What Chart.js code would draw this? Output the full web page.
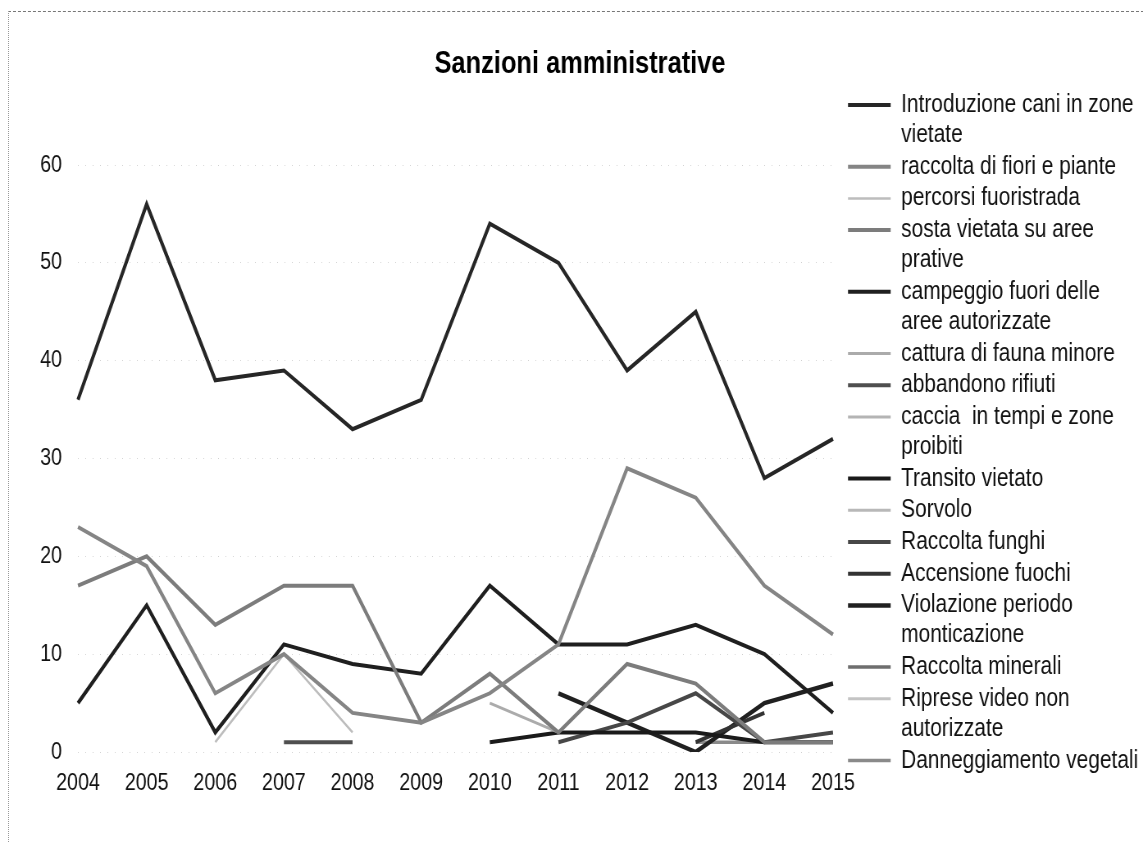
<!DOCTYPE html>
<html>
<head>
<meta charset="utf-8">
<script src="https://cdn.jsdelivr.net/npm/chart.js@4.4.1/dist/chart.umd.min.js"></script>
<style>
  body { margin: 0; background: #fff; }
  #wrap { position: absolute; left: 8px; top: 11px; width: 1135px; height: 832px;
          border-top: 1px dashed #777; border-left: 1px dotted #999; }
  /* the original uses a narrow face: draw wide, show narrow */
  #chart { width: 1134px !important; height: 831px !important; }
</style>
</head>
<body>
<div id="wrap"><canvas id="chart" width="1383" height="831" style="width:1134px;height:831px"></canvas></div>
<script>
var years = ['2004', '2005', '2006', '2007', '2008', '2009', '2010', '2011', '2012', '2013', '2014', '2015'];
var yTicks = [0, 10, 20, 30, 40, 50, 60];

var names = [
    'Introduzione cani in zone vietate',
    'raccolta di fiori e piante',
    'percorsi fuoristrada',
    'sosta vietata su aree prative',
    'campeggio fuori delle aree autorizzate',
    'cattura di fauna minore',
    'abbandono rifiuti',
    'caccia  in tempi e zone proibiti',
    'Transito vietato',
    'Sorvolo',
    'Raccolta funghi',
    'Accensione fuochi',
    'Violazione periodo monticazione',
    'Raccolta minerali',
    'Riprese video non autorizzate',
    'Danneggiamento vegetali'
];

// values, one list per series (null = no point)
var cani        = [36, 56, 38, 39, 33, 36, 54, 50, 39, 45, 28, 32];
var fiori       = [23, 19, 6, 10, 4, 3, 6, 11, 29, 26, 17, 12];
var fuoristrada = [null, null, 1, 10, 2, null, null, null, null, null, null, null];
var sosta       = [17, 20, 13, 17, 17, 3, 8, 2, 9, 7, 1, 1];
var campeggio   = [5, 15, 2, 11, 9, 8, 17, 11, 11, 13, 10, 4];
var fauna       = [null, null, null, null, null, null, 5, 2, null, null, null, null];
var rifiuti     = [null, null, null, 1, 1, null, null, null, null, null, null, null];
var caccia      = [null, null, null, null, null, null, null, null, null, null, null, null];
var transito    = [null, null, null, null, null, null, 1, 2, 2, 2, 1, 1];
var sorvolo     = [null, null, null, null, null, null, null, null, null, null, null, null];
var funghi      = [null, null, null, null, null, null, null, 1, 3, 6, 1, 2];
var fuochi      = [null, null, null, null, null, null, null, null, null, 1, 4, null];
var monticaz    = [null, null, null, null, null, null, null, 6, 3, 0, 5, 7];
var minerali    = [null, null, null, null, null, null, null, null, null, null, null, null];
var riprese     = [null, null, null, null, null, null, null, null, null, null, null, null];
var vegetali    = [null, null, null, null, null, null, null, null, null, 1, 1, 1];

var seriesData = [cani, fiori, fuoristrada, sosta, campeggio, fauna, rifiuti, caccia,
                  transito, sorvolo, funghi, fuochi, monticaz, minerali, riprese, vegetali];
var colors = ['#262626', '#858585', '#bdbdbd', '#7c7c7c', '#1f1f1f', '#ababab', '#4f4f4f', '#b4b4b4',
              '#1a1a1a', '#b8b8b8', '#474747', '#333333', '#202020', '#6e6e6e', '#c4c4c4', '#8a8a8a'];
var widths = [4, 4, 2.5, 4, 4, 3, 4, 3, 4, 3, 4, 4, 4.5, 3.5, 3, 3.5];

var FONT = '"Liberation Sans", Arial, sans-serif';
var W = 1383;            // internal canvas width, shown at 1134px
var K = 1134 / W;        // horizontal squeeze
var LEG_SIZE = 25.5;

// wrap long legend names the way the original legend does
var mctx = document.createElement('canvas').getContext('2d');
mctx.font = LEG_SIZE + 'px ' + FONT;
var maxLine = mctx.measureText('Introduzione cani in zone').width * 1.035;
function wrapLabel(text) {
    var words = text.split(' '), lines = [], line = '';
    words.forEach(function (w) {
        var test = line === '' ? w : line + ' ' + w;
        if (line !== '' && mctx.measureText(test).width > maxLine) {
            lines.push(line);
            line = w;
        } else {
            line = test;
        }
    });
    lines.push(line);
    return lines;
}
var widest = 0;
names.forEach(function (n) {
    wrapLabel(n).forEach(function (l) { widest = Math.max(widest, mctx.measureText(l).width); });
});

var areaRight = 824 / K;
var swatchW = 52;
// legend box width as Chart.js sizes it (it adds 10px to the column)
var legendW = 1.7 + swatchW + LEG_SIZE / 2 + widest + 10;
var padRight = Math.max(0, W - areaRight - legendW);
var padLeft = Math.max(0, 2 * (571 / K) - W + padRight);
var legendShift = 839 / K - 1.7 - areaRight;

var shiftLegend = {
    id: 'shiftLegend',
    afterLayout: function (chart) {
        chart.legend.left += legendShift;
        chart.legend.right += legendShift;
    }
};

var datasets = names.map(function (n, i) {
    return {
        label: n,
        data: seriesData[i],
        borderColor: colors[i],
        backgroundColor: colors[i],
        borderWidth: widths[i],
        pointRadius: 0,
        pointHoverRadius: 0,
        tension: 0,
        spanGaps: false
    };
});

new Chart(document.getElementById('chart'), {
    type: 'line',
    data: { labels: years, datasets: datasets },
    plugins: [shiftLegend],
    options: {
        responsive: false,
        animation: false,
        layout: { padding: { left: padLeft, right: padRight, top: 0, bottom: 45 } },
        plugins: {
            title: {
                display: true,
                text: 'Sanzioni amministrative',
                color: '#000',
                font: { family: FONT, size: 31, weight: 'bold' },
                padding: { top: 33.4, bottom: 82.4 }
            },
            legend: {
                position: 'right',
                align: 'start',
                maxWidth: 600,
                title: { display: true, text: ' ', font: { size: 10 }, padding: { top: 66.55, bottom: 0 } },
                labels: {
                    usePointStyle: true,
                    pointStyle: 'line',
                    pointStyleWidth: swatchW,
                    padding: 1.7,
                    color: '#111',
                    font: { family: FONT, size: LEG_SIZE, lineHeight: 30 / LEG_SIZE },
                    generateLabels: function (chart) {
                        var items = Chart.defaults.plugins.legend.labels.generateLabels(chart);
                        items.forEach(function (it) { it.text = wrapLabel(it.text); });
                        return items;
                    }
                }
            },
            tooltip: { enabled: false }
        },
        scales: {
            x: {
                offset: false,
                grid: { display: false, drawTicks: false },
                border: { display: false },
                ticks: { color: '#111', padding: 16.6, maxRotation: 0, autoSkip: false,
                         font: { family: FONT, size: 24 } },
                afterFit: function (s) { s.height = 46; }
            },
            y: {
                min: 0,
                max: 60,
                afterBuildTicks: function (s) { s.ticks = yTicks.map(function (v) { return { value: v }; }); },
                grid: { color: '#d0d0d0', lineWidth: 1, drawTicks: false },
                border: { display: false, dash: [1, 8] },
                ticks: { color: '#111', padding: 16 / K, font: { family: FONT, size: 24 } },
                afterFit: function (s) { s.width = 69 / K - padLeft; }
            }
        }
    }
});
</script>
</body>
</html>
